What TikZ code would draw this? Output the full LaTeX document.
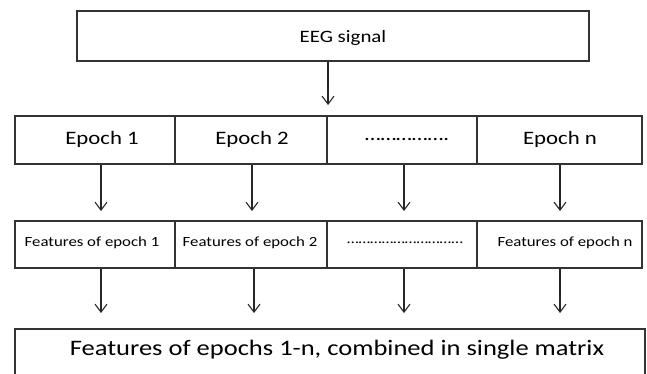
\documentclass[tikz,border=0pt]{standalone}
\usepackage{fontspec}
\usepackage{graphicx}
\setmainfont{Carlito}
\usetikzlibrary{arrows.meta}
\newcommand{\wide}[1]{\scalebox{1.2}[1]{#1}}
\begin{document}
\begin{tikzpicture}[x=1pt,y=-1pt,
  box/.style={draw=black!80,line width=1.6pt},
  conn/.style={draw=black!85,line width=1.1pt,-{Straight Barb[length=8pt,width=12pt,line width=1.1pt]}},
  eegfont/.style={font=\fontsize{17.4}{20}\selectfont},
  big/.style={font=\fontsize{19}{22}\selectfont},
  small/.style={font=\fontsize{14}{16}\selectfont},
  huge/.style={font=\fontsize{22.1}{26}\selectfont}]
\clip (0,0) rectangle (647,373);
\useasboundingbox (0,0) rectangle (647,373);
% EEG
\node[box,minimum width=512pt,minimum height=50pt,inner sep=0pt] (eeg) at (333,36) {};
\node[eegfont] (et) at (343,38) {\wide{EEG signal}};
% epoch row
\node[box,minimum width=160pt,minimum height=48pt,inner sep=0pt] (e1) at (95,140) {};
\node[box,minimum width=152pt,minimum height=48pt,inner sep=0pt] (e2) at (251,140) {};
\node[box,minimum width=150pt,minimum height=48pt,inner sep=0pt] (e3) at (402,140) {};
\node[box,minimum width=165pt,minimum height=48pt,inner sep=0pt] (e4) at (559.5,140) {};
\node[big] (t1) at (102,139) {\wide{Epoch 1}};
\node[big] (t2) at (252,139) {\wide{Epoch 2}};
\node[big] (t3) at (407,139) {\wide{…………….}};
\node[big] (t4) at (560,139) {\wide{Epoch n}};
% features row
\node[box,minimum width=160pt,minimum height=47pt,inner sep=0pt] (f1) at (95,244.5) {};
\node[box,minimum width=152pt,minimum height=47pt,inner sep=0pt] (f2) at (251,244.5) {};
\node[box,minimum width=150pt,minimum height=47pt,inner sep=0pt] (f3) at (402,244.5) {};
\node[box,minimum width=165pt,minimum height=47pt,inner sep=0pt] (f4) at (559.5,244.5) {};
\node[small] (s1) at (92,243) {\wide{Features of epoch 1}};
\node[small] (s2) at (250,243) {\wide{Features of epoch 2}};
\node[small] (s3) at (405,243) {\wide{…………………………}};
\node[small] (s4) at (565,243) {\wide{Features of epoch n}};
% bottom
\node[box,minimum width=630pt,minimum height=60pt,inner sep=0pt,anchor=north] (m) at (330,328) {};
\node[huge] (mt) at (337,350) {\wide{Features of epochs 1-n, combined in single matrix}};
% arrows
\coordinate (a0) at (328,105);
\draw[conn] (eeg.south -| a0) -- (a0);
\foreach \i/\x in {1/101,2/252,3/404,4/560}{
  \coordinate (b\i) at (\x,211);
  \draw[conn] (e\i.south -| b\i) -- (b\i);
}
\foreach \i/\x in {1/101,2/254,3/404,4/560}{
  \coordinate (c\i) at (\x,313);
  \draw[conn] (f\i.south -| c\i) -- (c\i);
}
\end{tikzpicture}
\end{document}
